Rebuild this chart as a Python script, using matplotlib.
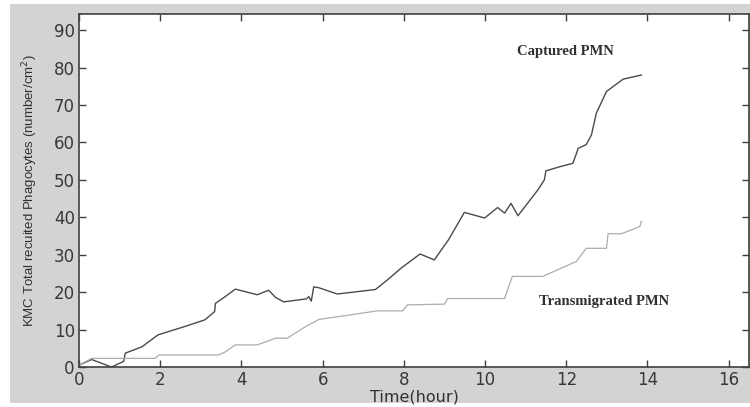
import numpy as np
import matplotlib
matplotlib.use("Agg")
import matplotlib.pyplot as plt
from matplotlib.patches import Rectangle

# KMC recruitment curves (hours, number/cm^2)
captured_t = [0, 0.31, 0.8, 1.1, 1.14, 1.55, 1.95, 2.6, 3.1, 3.34, 3.36, 3.6, 3.85,
              4.39, 4.67, 4.84, 5.04, 5.6, 5.66, 5.72, 5.78, 5.9, 6.36, 7.3, 7.6,
              7.93, 8.4, 8.75, 9.1, 9.49, 9.99, 10.31, 10.48, 10.64, 10.81, 11.3,
              11.46, 11.5, 11.84, 12.16, 12.25, 12.29, 12.49, 12.62, 12.74, 12.99,
              13.4, 13.85]
captured_n = [0.5, 2, 0, 1.5, 3.7, 5.4, 8.6, 10.8, 12.6, 14.8, 17, 18.8, 20.8,
              19.3, 20.5, 18.6, 17.4, 18.2, 18.8, 17.6, 21.4, 21.2, 19.5, 20.7, 23.3,
              26.4, 30.2, 28.6, 34, 41.3, 39.8, 42.6, 41.1, 43.7, 40.4, 47.3,
              50, 52.4, 53.5, 54.4, 57, 58.4, 59.4, 62, 67.8, 73.6,
              76.9, 78]

transm_t = [0, 0.31, 1.88, 1.96, 3.43, 3.6, 3.85, 4.39, 4.84, 5.13, 5.58, 5.91,
            7.35, 7.97, 8.09, 9.0, 9.08, 10.48, 10.67, 11.42, 12.25, 12.49, 12.99,
            13.03, 13.36, 13.81, 13.85]
transm_n = [0.5, 2.3, 2.3, 3.2, 3.2, 4, 5.9, 5.9, 7.7, 7.7, 10.8, 12.7,
            15, 15, 16.6, 16.8, 18.3, 18.3, 24.2, 24.2, 28.2, 31.7, 31.7,
            35.6, 35.6, 37.5, 38.9]

xticks = [0, 2, 4, 6, 8, 10, 12, 14, 16]
yticks = [0, 10, 20, 30, 40, 50, 60, 70, 80, 90]

W, H = 750, 407
fig = plt.figure(figsize=(W / 100, H / 100), dpi=100, facecolor="white")
fig.add_artist(Rectangle((10 / W, 4 / H), 1 - 10 / W, (403 - 4) / H,
                         transform=fig.transFigure, facecolor="#d3d3d3",
                         edgecolor="none", zorder=-10))

ax = fig.add_axes([79 / W, (H - 367) / H, (749 - 79) / W, (367 - 14) / H])
ax.set_facecolor("white")

ax.plot(captured_t, captured_n, color="#4a4a4a", lw=1.0)
ax.plot(transm_t, transm_n, color="#acacac", lw=0.9)

ax.set_xlim(0, 16.5)
ax.set_ylim(0, 94.3)
ax.set_xticks(xticks)
ax.set_yticks(yticks)
ax.tick_params(direction="in", length=5, width=1.0, colors="#404040",
               top=True, right=True, labelsize=12, pad=3)
for lab in ax.get_xticklabels() + ax.get_yticklabels():
    lab.set_color("#383838")
for sp in ax.spines.values():
    sp.set_color("#404040")
    sp.set_linewidth(1.2)

ax.set_xlabel("Time(hour)", fontsize=11.5, color="#303030", labelpad=0)
ax.set_ylabel("KMC Total recuited Phagocytes (number/cm$^2$)", fontsize=9.5,
              color="#303030", family="Liberation Sans", labelpad=10)

ax.text(11.98, 84.2, "Captured PMN", family="Liberation Serif", weight="bold",
        fontsize=10.5, color="#303030", ha="center", va="center")
ax.text(12.94, 17.4, "Transmigrated PMN", family="Liberation Serif", weight="bold",
        fontsize=10.5, color="#303030", ha="center", va="center")

fig.savefig("out.png", dpi=100, facecolor=fig.get_facecolor())
